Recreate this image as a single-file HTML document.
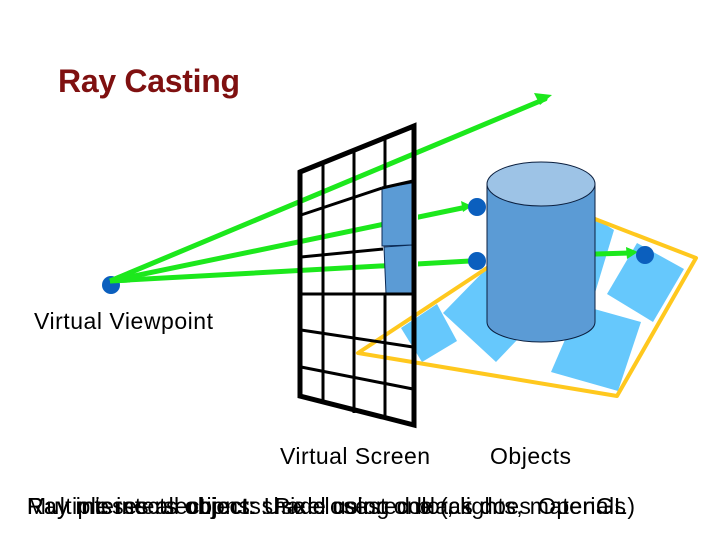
<!DOCTYPE html>
<html><head><meta charset="utf-8"><style>
html,body{margin:0;padding:0;background:#fff;width:720px;height:540px;overflow:hidden}
svg{display:block}
text{font-family:"Liberation Sans",sans-serif;font-size:23px;fill:#000}
</style></head><body>
<svg width="720" height="540" viewBox="0 0 720 540" xmlns="http://www.w3.org/2000/svg">
<rect width="720" height="540" fill="#fff"/>
<text x="58" y="92" style="font-size:32px;font-weight:bold;fill:#7f1010" textLength="182" lengthAdjust="spacing">Ray Casting</text>
<!-- floor objects -->
<g fill="#66c8fc">
<polygon points="437,304 457,341 422,362 401,328"/>
<polygon points="443,313 496,362 517,340 560,290 500,250 487,268"/>
<polygon points="590,215 614,230 595,293 570,280"/>
<polygon points="637,243 684,269 653,322 607,294"/>
<polygon points="580,305 641,322 618,391 551,372"/>
</g>
<polygon points="487,268 358,353 617,396 696,258 595,219" fill="none" stroke="#ffc81e" stroke-width="4" stroke-linejoin="round"/>
<!-- rays -->
<g stroke="#1ce81c" stroke-width="5" fill="none" stroke-linecap="round">
<line x1="110" y1="281" x2="545" y2="99"/>
<line x1="110" y1="281" x2="462" y2="208"/>
<line x1="110" y1="281" x2="470" y2="261"/>
<line x1="596" y1="254" x2="630" y2="253"/>
</g>
<g fill="#1ce81c">
<polygon points="552,95 534,93 540,105"/>
<polygon points="472,206 461,201 463,212"/>
<polygon points="638,252 626,247 627,259"/>
</g>
<!-- white gaps at right of screen -->
<rect x="413" y="180" width="5" height="120" fill="#fff"/>
<!-- screen patches -->
<polygon points="382,188 412,183 412,245 382,246" fill="#5b9bd5" stroke="#0b2a55" stroke-width="1"/>
<polygon points="384,247 412,245 412,293 386,294" fill="#5b9bd5" stroke="#0b2a55" stroke-width="1"/>
<!-- grid -->
<g stroke="#000" fill="none">
<polygon points="300,172 414,126 414,425 300,396" stroke-width="5" stroke-linejoin="miter"/>
<g stroke-width="3">
<line x1="323" y1="163" x2="323" y2="402"/>
<line x1="354" y1="152" x2="354" y2="413"/>
<line x1="385" y1="139" x2="385" y2="188"/>
<line x1="385" y1="294" x2="385" y2="417"/>
<line x1="301" y1="215" x2="382" y2="188"/>
<line x1="382" y1="188" x2="413" y2="181"/>
<line x1="301" y1="257" x2="383" y2="249"/>
<line x1="300" y1="294" x2="413" y2="294"/>
<line x1="301" y1="330" x2="413" y2="347"/>
<line x1="301" y1="367" x2="413" y2="389"/>
</g>
</g>
<!-- dots -->
<g fill="#0b5fbe">
<circle cx="111" cy="285" r="9"/>
<circle cx="477" cy="207" r="9"/>
<circle cx="477" cy="261" r="9"/>
<circle cx="645" cy="255" r="9"/>
</g>
<line x1="110" y1="281" x2="130" y2="273" stroke="#1ce81c" stroke-width="5"/>
<line x1="110" y1="281" x2="130" y2="277" stroke="#1ce81c" stroke-width="5"/>
<line x1="110" y1="281" x2="130" y2="280" stroke="#1ce81c" stroke-width="5"/>
<!-- cylinder -->
<path d="M487,184 V322 A54,20 0 0 0 595,322 V184 Z" fill="#5b9bd5" stroke="#0b1f3f" stroke-width="1"/>
<ellipse cx="541" cy="184" rx="54" ry="22" fill="#9dc3e6" stroke="#0b1f3f" stroke-width="1"/>
<!-- labels -->
<text x="34" y="329" textLength="179" lengthAdjust="spacing">Virtual Viewpoint</text>
<text x="280" y="464" textLength="150" lengthAdjust="spacing">Virtual Screen</text>
<text x="490" y="464" textLength="81" lengthAdjust="spacing">Objects</text>
<text x="27" y="514" style="letter-spacing:.3px">Ray misses all objects: Pixel colored black</text>
<text x="27" y="514" textLength="599" lengthAdjust="spacing">Ray intersects object: shade using color, lights, materials</text>
<text x="27" y="514" textLength="608" lengthAdjust="spacing">Multiple intersections: Use closest one (as does OpenGL)</text>
</svg>
</body></html>
